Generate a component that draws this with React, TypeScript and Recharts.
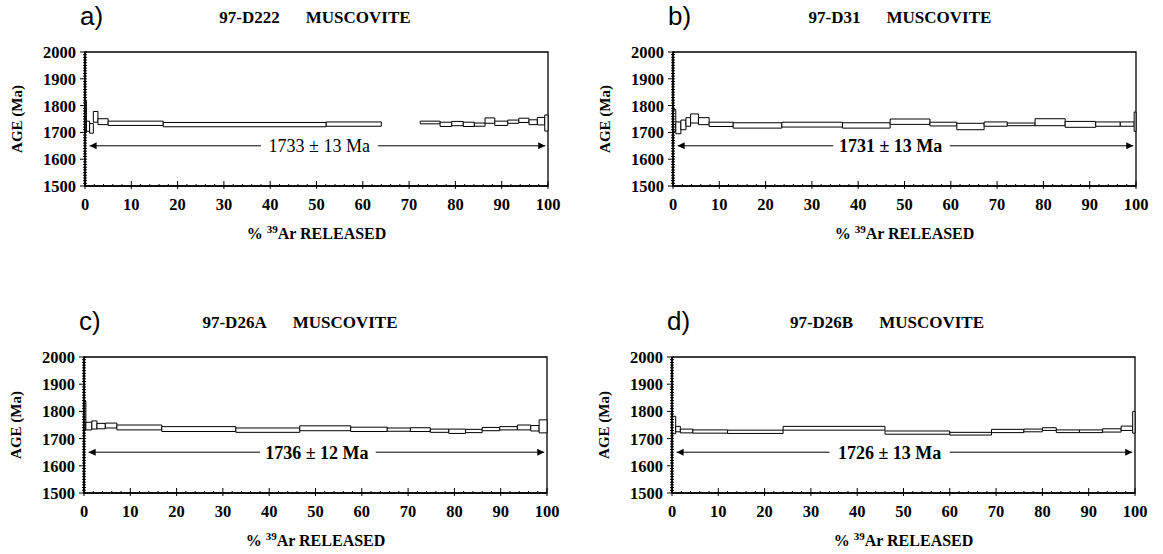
import React from 'react';
import { ComposedChart, XAxis, YAxis, Line, ReferenceArea, ReferenceDot, Label } from 'recharts';

// step boundaries (cumulative % 39Ar released), apparent ages and 1-sigma errors (Ma)
const aCum = [0, 0.3, 1.0, 1.8, 2.8, 5.0, 16.9, 52.1, 64.0, 72.4, 76.7, 79.2, 81.7, 84.1, 86.4, 88.5, 91.3, 93.7, 95.9, 97.7, 99.3, 100];
const aAge = [1760, 1723, 1715, 1758, 1740, 1734, 1729, 1731, null, 1737, 1730, 1733, 1730, 1729, 1744, 1734, 1740, 1745, 1738, 1742, 1735];
const aErr = [58, 19, 18, 20, 11, 8, 8, 8, 0, 5, 8, 8, 8, 6, 10, 8, 6, 8, 9, 14, 30];

const bCum = [0, 0.6, 1.7, 2.8, 3.8, 5.5, 7.8, 13.0, 23.5, 36.6, 46.9, 55.5, 61.3, 67.2, 72.2, 78.2, 84.7, 91.3, 96.6, 99.6, 100];
const bAge = [1745, 1717, 1728, 1739, 1752, 1742, 1730, 1726, 1729, 1726, 1740, 1731, 1722, 1731, 1730, 1738, 1730, 1731, 1731, 1740];
const bErr = [41, 22, 18, 16, 17, 13, 8, 10, 9, 10, 10, 7, 12, 8, 5, 13, 11, 8, 8, 36];

const cCum = [0, 0.4, 1.7, 2.8, 4.6, 7.1, 16.8, 32.8, 46.6, 57.6, 65.5, 70.5, 74.8, 78.8, 82.4, 86.0, 89.8, 93.6, 96.5, 98.3, 100];
const cAge = [1785, 1746, 1750, 1746, 1748, 1741, 1735, 1731, 1738, 1734, 1733, 1733, 1729, 1727, 1728, 1735, 1738, 1741, 1738, 1745];
const cErr = [52, 14, 15, 10, 9, 9, 9, 8, 9, 8, 6, 7, 6, 8, 6, 6, 6, 9, 10, 24];

const dCum = [0, 0.8, 1.8, 4.5, 12.0, 24.0, 46.0, 60.0, 69.0, 76.0, 80.0, 83.0, 88.0, 93.0, 97.0, 99.5, 100];
const dAge = [1750, 1735, 1728, 1726, 1725, 1738, 1722, 1718, 1728, 1730, 1735, 1727, 1727, 1730, 1738, 1760];
const dErr = [32, 10, 7, 6, 6, 7, 6, 5, 6, 5, 5, 5, 5, 6, 8, 40];

const plateauAges = ['1733 ± 13 Ma', '1731 ± 13 Ma', '1736 ± 12 Ma', '1726 ± 13 Ma'];
const samples = ['97-D222', '97-D31', '97-D26A', '97-D26B'];
const letters = ['a)', 'b)', 'c)', 'd)'];

const xMajor = [0, 10, 20, 30, 40, 50, 60, 70, 80, 90, 100];
const yMajor = [1500, 1600, 1700, 1800, 1900, 2000];
const xTicks = Array.from({ length: 51 }, (_, i) => i * 2);
const yTicks = Array.from({ length: 51 }, (_, i) => 1500 + i * 10);

const SERIF = "'Liberation Serif', 'Times New Roman', serif";
const SANS = "'Liberation Sans', Arial, sans-serif";
const PLATEAU_Y = 1650;

const YTick = (props: any) => {
  const { x, y, payload } = props;
  const major = yMajor.includes(payload.value);
  return (
    <g>
      <line x1={major ? x - 5 : x - 2} x2={x + 2} y1={y} y2={y} stroke="#000" strokeWidth={1} />
      {major && (
        <text x={x - 9} y={y} dy="0.36em" textAnchor="end" fontFamily={SERIF} fontWeight="bold" fontSize={16.5} fill="#000">
          {payload.value}
        </text>
      )}
    </g>
  );
};

const XTick = (props: any) => {
  const { x, y, payload } = props;
  const major = xMajor.includes(payload.value);
  return (
    <g>
      <line x1={x} x2={x} y1={y - (major ? 5 : 2)} y2={y + (major ? 3 : 0)} stroke="#000" strokeWidth={1} />
      {major && (
        <text x={x} y={y + 24} textAnchor="middle" fontFamily={SERIF} fontWeight="bold" fontSize={16.5} fill="#000">
          {payload.value}
        </text>
      )}
    </g>
  );
};

const XTitle = (props: any) => {
  const { x, y, width } = props.viewBox;
  return (
    <text x={x + width / 2} y={y + 53} textAnchor="middle" fontFamily={SERIF} fontWeight="bold" fontSize={16} fill="#000">
      <tspan>%  </tspan>
      <tspan fontSize={11} dy={-6}>39</tspan>
      <tspan dy={6}>Ar  RELEASED</tspan>
    </text>
  );
};

const YTitle = (props: any) => {
  const { x, y, height } = props.viewBox;
  const cx = x + 17;
  const cy = y + height / 2;
  return (
    <text x={cx} y={cy} transform={`rotate(-90 ${cx} ${cy})`} textAnchor="middle" dy="0.35em"
      fontFamily={SERIF} fontWeight="bold" fontSize={15} fill="#000">
      AGE  (Ma)
    </text>
  );
};

type PanelProps = {
  idx: number;
  plotLeft: number;
  plotTop: number;
  plotH: number;
  titleX: number;
  cum: number[];
  age: (number | null)[];
  err: number[];
  labelX: number;
  gap: [number, number];
  bold: boolean;
};

function Panel({ idx, plotLeft, plotTop, plotH, titleX, cum, age, err, labelX, gap, bold }: PanelProps) {
  const steps = age
    .map((a, i) => (a == null ? null : { x1: cum[i], x2: cum[i + 1], y1: a - err[i], y2: a + err[i] }))
    .filter((s): s is { x1: number; x2: number; y1: number; y2: number } => s !== null);

  const arrow = [
    { x: 1, y: PLATEAU_Y },
    { x: gap[0], y: PLATEAU_Y },
    { x: labelX, y: null },
    { x: gap[1], y: PLATEAU_Y },
    { x: 99.4, y: PLATEAU_Y },
  ];

  const renderHead = (p: any) => {
    const { cx, cy, index } = p;
    if (index === 0) return <path key="l" d={`M${cx},${cy} l7,-3.5 l0,7 z`} fill="#000" />;
    if (index === arrow.length - 1) return <path key="r" d={`M${cx},${cy} l-7,-3.5 l0,7 z`} fill="#000" />;
    return <g key={`n${index}`} />;
  };

  const chartLeft = plotLeft - 85;
  const chartTop = plotTop - 52;

  return (
    <>
      <div style={{ position: 'absolute', left: plotLeft - 5, top: plotTop - 51, fontFamily: SANS, fontSize: 26, lineHeight: '30px' }}>
        {letters[idx]}
      </div>
      <div style={{ position: 'absolute', left: titleX - 200, width: 400, top: plotTop - 44, textAlign: 'center', fontFamily: SERIF, fontWeight: 'bold', fontSize: 17, lineHeight: '20px' }}>
        <span style={{ marginRight: 26 }}>{samples[idx]}</span>
        <span>MUSCOVITE</span>
      </div>
      <div style={{ position: 'absolute', left: chartLeft, top: chartTop }}>
        <ComposedChart width={573} height={52 + plotH + 70} margin={{ top: 52, right: 25, left: 0, bottom: 0 }}>
          <XAxis type="number" dataKey="x" domain={[0, 100]} ticks={xTicks} interval={0} allowDataOverflow
            tick={<XTick />} tickLine={false} tickSize={0} tickMargin={0} height={70}
            axisLine={{ stroke: '#000', strokeWidth: 1.3 }}>
            <Label content={<XTitle />} />
          </XAxis>
          <YAxis type="number" domain={[1500, 2000]} ticks={yTicks} interval={0} allowDataOverflow
            tick={<YTick />} tickLine={false} tickSize={0} tickMargin={0} width={85}
            axisLine={{ stroke: '#000', strokeWidth: 1.5 }}>
            <Label content={<YTitle />} />
          </YAxis>
          <ReferenceArea x1={0} x2={100} y1={1500} y2={2000} fill="none" stroke="#000" strokeWidth={1.3} />
          {steps.map((s, i) => (
            <ReferenceArea key={i} x1={s.x1} x2={s.x2} y1={s.y1} y2={s.y2} fill="#fff" fillOpacity={1}
              stroke="#000" strokeWidth={1} ifOverflow="visible" />
          ))}
          <Line data={arrow} dataKey="y" stroke="#000" strokeWidth={1} dot={renderHead} activeDot={false}
            connectNulls={false} isAnimationActive={false} />
          <ReferenceDot x={labelX} y={PLATEAU_Y} r={0}
            shape={(p: any) => (
              <text x={p.cx} y={p.cy} dy="0.35em" textAnchor="middle" fontFamily={SERIF}
                fontWeight={bold ? 'bold' : 'normal'} fontSize={18} fill="#000">
                {plateauAges[idx]}
              </text>
            )} />
        </ComposedChart>
      </div>
    </>
  );
}

export default function App() {
  return (
    <div style={{ position: 'absolute', left: 0, top: 0, width: 1163, height: 554, background: '#fff', overflow: 'hidden' }}>
      <Panel idx={0} plotLeft={85} plotTop={52} plotH={134} titleX={315} cum={aCum} age={aAge} err={aErr}
        labelX={50.6} gap={[38, 63.3]} bold={false} />
      <Panel idx={1} plotLeft={673} plotTop={52} plotH={134} titleX={900} cum={bCum} age={bAge} err={bErr}
        labelX={47} gap={[34.6, 59.8]} bold={true} />
      <Panel idx={2} plotLeft={84} plotTop={357} plotH={136} titleX={300} cum={cCum} age={cAge} err={cErr}
        labelX={50.3} gap={[38, 63]} bold={true} />
      <Panel idx={3} plotLeft={672} plotTop={357} plotH={136} titleX={887} cum={dCum} age={dAge} err={dErr}
        labelX={47} gap={[34, 60]} bold={true} />
    </div>
  );
}
